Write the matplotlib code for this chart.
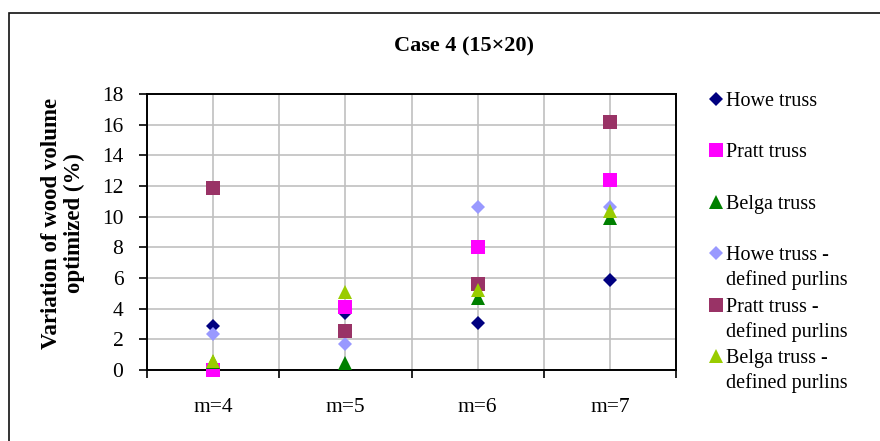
import numpy as np
import matplotlib
matplotlib.use('Agg')
import matplotlib.pyplot as plt
from matplotlib.patches import Rectangle

plt.rcParams['font.family'] = ['Liberation Serif', 'DejaVu Serif']

# data
categories = ['m=4', 'm=5', 'm=6', 'm=7']
howe = [2.9, 3.7, 3.05, 5.9]
pratt = [0.0, 4.1, 8.0, 12.4]
belga = [0.5, 0.45, 4.7, 9.9]
howe_def = [2.35, 1.7, 10.6, 10.65]
pratt_def = [11.9, 2.55, 5.6, 16.2]
belga_def = [0.6, 5.1, 5.25, 10.35]

series_names = ['Howe truss', 'Pratt truss', 'Belga truss',
                'Howe truss -\ndefined purlins', 'Pratt truss -\ndefined purlins',
                'Belga truss -\ndefined purlins']
series_values = [howe, pratt, belga, howe_def, pratt_def, belga_def]
markers = ['D', 's', '^', 'D', 's', '^']
sizes = [7.4, 10, 9.6, 7.6, 10, 9.6]
colors = ['#000080', '#FF00FF', '#008000', '#9999FF', '#993366', '#99CC00']

W, H = 880, 441
fig = plt.figure(figsize=(W / 100, H / 100), dpi=100)

# outer chart frame
fig.patches.append(Rectangle((9 / W, -0.1), 1.2, 1.1 - 13 / H, transform=fig.transFigure,
                             fill=False, edgecolor='#111111', linewidth=1.2))

ax = fig.add_axes([147 / W, 1 - 370 / H, 529 / W, 276 / H])
x = np.arange(len(categories)) + 0.5
for vals, m, ms, c in zip(series_values, markers, sizes, colors):
    ax.plot(x, vals, linestyle='none', marker=m, markersize=ms, color=c,
            markeredgewidth=0, clip_on=False, zorder=3)

ax.set_xlim(0, len(categories))
ax.set_ylim(0, 18)
ax.set_yticks(np.arange(0, 19, 2))
ax.set_xticks(np.arange(0, len(categories) + 1))
ax.set_xticklabels([])
ax.set_xticks(x, minor=True)
ax.set_xticklabels(categories, minor=True)
ax.tick_params(axis='x', which='major', direction='out', length=6, width=1.2)
ax.tick_params(axis='x', which='minor', length=0, pad=20, labelsize=15.5)
ax.tick_params(axis='y', direction='out', length=6, width=1.2, pad=11, labelsize=15.5)
ax.grid(True, axis='y', color='#C0C0C0', linewidth=1.2)
ax.grid(True, axis='x', which='both', color='#C0C0C0', linewidth=1.2)
ax.set_axisbelow(True)
for s in ax.spines.values():
    s.set_linewidth(1.4)

fig.text(464 / W, 1 - 46 / H, 'Case 4 (15×20)', ha='center', va='center',
         fontsize=16, fontweight='bold')
fig.text(63 / W, 1 - 223 / H, 'Variation of wood volume\noptimized (%)', rotation=90,
         ha='center', va='center', multialignment='center', fontsize=16.5,
         fontweight='bold', linespacing=1.1)

# legend, one entry per series
lax = fig.add_axes([700 / W, 1 - 381.7 / H, 180 / W, 308.4 / H])
lax.set_xlim(0, 180)
lax.set_ylim(len(series_names) - 0.5, -0.5)
lax.axis('off')
for i, (name, m, ms, c) in enumerate(zip(series_names, markers, sizes, colors)):
    lax.plot([16], [i], linestyle='none', marker=m, markersize=ms, color=c,
             markeredgewidth=0, clip_on=False)
    for k, line in enumerate(name.split('\n')):
        lax.text(26, i + 0.135 + k * 0.486, line, ha='left', va='baseline', fontsize=14.5)

fig.savefig('out.png', dpi=100)
